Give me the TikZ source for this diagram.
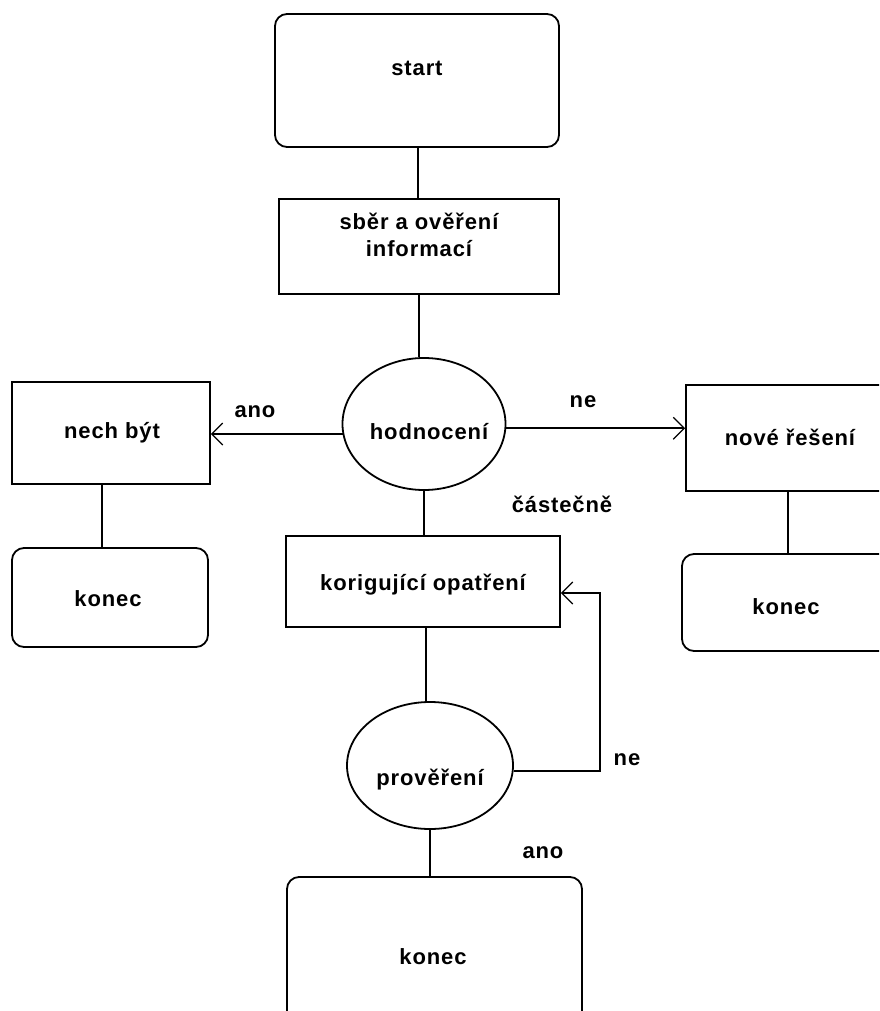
\documentclass[tikz,border=0pt]{standalone}
\usepackage{fontspec}
\setmainfont[LetterSpace=4]{Liberation Sans}
\usetikzlibrary{shapes.geometric,arrows.meta}
\begin{document}
\begin{tikzpicture}[x=1pt,y=-1pt,
  line width=1.8pt,
  txt/.style={font=\fontsize{22}{27}\selectfont\bfseries, inner sep=0pt, align=center},
  rbox/.style={draw, rounded corners=12pt, inner sep=0pt},
  sbox/.style={draw, inner sep=0pt},
  oval/.style={draw, ellipse, inner sep=0pt},
  conn/.style={line width=1.8pt},
  arr/.style={line width=1.8pt, -{Straight Barb[length=11pt,width=22pt,line width=1.2pt]}}
]
\useasboundingbox (0,0) rectangle (879,1011);
\clip (0,0) rectangle (879,1011);
% boxes
\node[rbox, minimum width=284pt, minimum height=133pt] (start) at (417,80.5) {};
\node[txt] (tstart) at (417,68) {start};
\node[sbox, minimum width=280pt, minimum height=95pt] (sber) at (419,246.5) {};
\node[txt] (tsber) at (419,235) {sběr a ověření\\informací};
\node[oval, minimum width=163pt, minimum height=132pt] (hodn) at (424,424) {};
\node[txt] (thodn) at (429,432) {hodnocení};
\node[sbox, minimum width=198pt, minimum height=102pt] (nech) at (111,433) {};
\node[txt] (tnech) at (112,433) {nech být};
\node[rbox, minimum width=196pt, minimum height=99pt] (kon1) at (110,597.5) {};
\node[txt] (tkon1) at (108,599) {konec};
\node[sbox, minimum width=210pt, minimum height=106pt] (nove) at (791,438) {};
\node[txt] (tnove) at (790,437) {nové řešení};
\node[rbox, minimum width=210pt, minimum height=97pt] (kon2) at (787,602.5) {};
\node[txt] (tkon2) at (786,607) {konec};
\node[sbox, minimum width=274pt, minimum height=91pt] (kor) at (423,581.5) {};
\node[txt] (tkor) at (423,585) {korigující opatření};
\node[oval, minimum width=166pt, minimum height=127pt] (prov) at (430,765.5) {};
\node[txt] (tprov) at (430,780) {prověření};
\node[rbox, minimum width=295pt, minimum height=170pt] (kon3) at (434.5,962) {};
\node[txt] (tkon3) at (433,957) {konec};
% labels
\node[txt] (lano1) at (255,412) {ano};
\node[txt] (lne1) at (583,402) {ne};
\node[txt] (lcast) at (562,504) {částečně};
\node[txt] (lne2) at (627,760) {ne};
\node[txt] (lano2) at (543,853) {ano};
% connectors
\draw[conn] ([xshift=1pt]start.south) -- ([xshift=1pt]start.south |- sber.north);
\draw[conn] (sber.south) -- (sber.south |- hodn.north);
\draw[arr] (hodn.187) -- (hodn.187 -| nech.east);
\draw[arr] (hodn.-3) -- (hodn.-3 -| nove.west);
\draw[conn] ([xshift=-9pt]nech.south) -- ([xshift=-9pt]nech.south |- kon1.north);
\draw[conn] ([xshift=-3pt]nove.south) -- ([xshift=-3pt]nove.south |- kon2.north);
\draw[conn] (hodn.south) -- (hodn.south |- kor.north);
\draw[conn] ([xshift=3pt]kor.south) -- ([xshift=3pt]kor.south |- prov.north);
\draw[conn] (prov.south) -- (prov.south |- kon3.north);
\coordinate (loop) at (600,593);
\draw[arr] (prov.-4) -| (loop) -- (loop -| kor.east);
\end{tikzpicture}
\end{document}
